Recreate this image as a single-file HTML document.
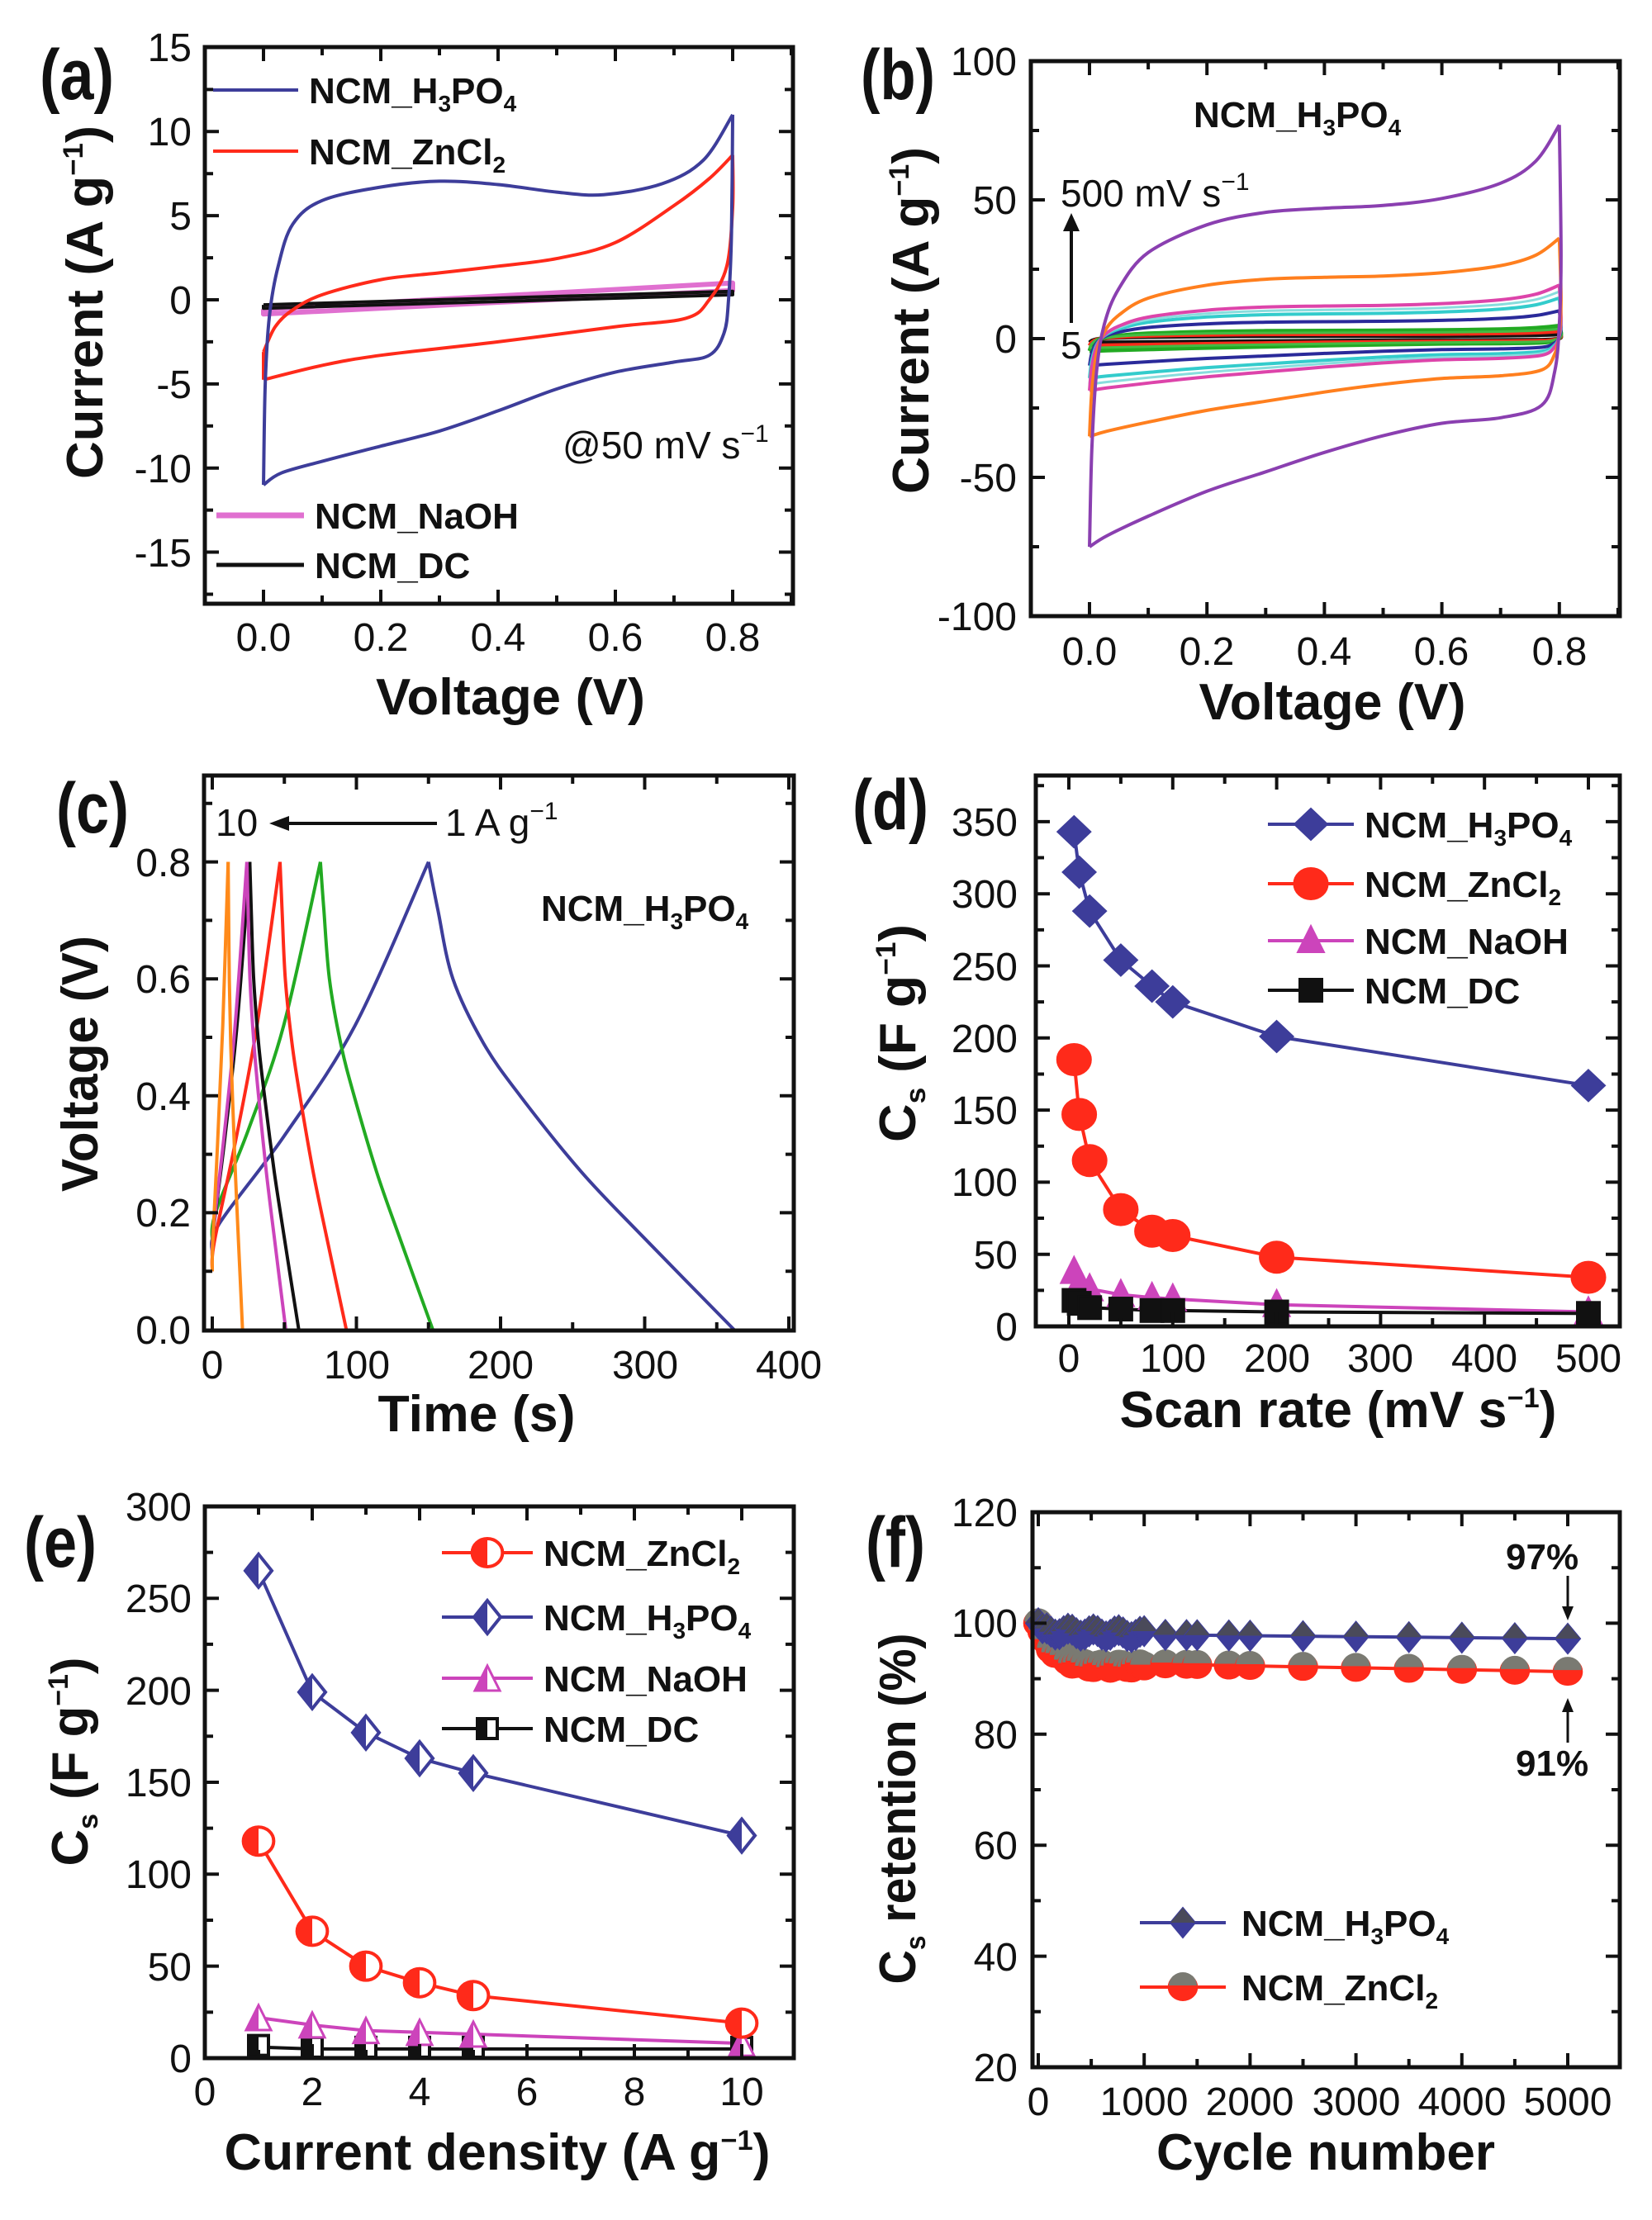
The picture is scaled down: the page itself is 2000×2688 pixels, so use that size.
<!DOCTYPE html>
<html><head><meta charset="utf-8"><style>
html,body{margin:0;padding:0;background:#fff}
svg{display:block}
text{font-family:"Liberation Sans",Arial,sans-serif;fill:#111}
.t{font-size:48px}
.L{font-size:44px;font-weight:bold}
.T{font-size:62px;font-weight:bold}
.P{font-size:86px;font-weight:bold}
.A{font-size:46px}
</style></head><body>
<svg id="s" xmlns="http://www.w3.org/2000/svg" width="2000" height="2688" viewBox="0 0 2000 2688">
<rect width="2000" height="2688" fill="#fff"/>
<g id="dyn"></g>
<!-- panel labels -->
<text class="P" x="48" y="120" textLength="90" lengthAdjust="spacingAndGlyphs">(a)</text>
<text class="P" x="1042" y="120" textLength="90" lengthAdjust="spacingAndGlyphs">(b)</text>
<text class="P" x="68" y="1008" textLength="88" lengthAdjust="spacingAndGlyphs">(c)</text>
<text class="P" x="1032" y="1004" textLength="92" lengthAdjust="spacingAndGlyphs">(d)</text>
<text class="P" x="29" y="1897" textLength="88" lengthAdjust="spacingAndGlyphs">(e)</text>
<text class="P" x="1048" y="1897" textLength="72" lengthAdjust="spacingAndGlyphs">(f)</text>

<g class="t" text-anchor="end">
<text x="232" y="74">15</text><text x="232" y="176">10</text><text x="232" y="278">5</text><text x="232" y="380">0</text><text x="232" y="482">-5</text><text x="232" y="584">-10</text><text x="232" y="686">-15</text>
<text x="1231" y="91">100</text><text x="1231" y="259">50</text><text x="1231" y="427">0</text><text x="1231" y="595">-50</text><text x="1231" y="763">-100</text>
<text x="231" y="1627">0.0</text><text x="231" y="1485">0.2</text><text x="231" y="1344">0.4</text><text x="231" y="1202">0.6</text><text x="231" y="1061">0.8</text>
<text x="1232" y="1623">0</text><text x="1232" y="1536">50</text><text x="1232" y="1448">100</text><text x="1232" y="1361">150</text><text x="1232" y="1274">200</text><text x="1232" y="1187">250</text><text x="1232" y="1099">300</text><text x="1232" y="1012">350</text>
<text x="232" y="2509">0</text><text x="232" y="2398">50</text><text x="232" y="2286">100</text><text x="232" y="2175">150</text><text x="232" y="2064">200</text><text x="232" y="1952">250</text><text x="232" y="1841">300</text>
<text x="1232" y="2520">20</text><text x="1232" y="2386">40</text><text x="1232" y="2251">60</text><text x="1232" y="2117">80</text><text x="1232" y="1982">100</text><text x="1232" y="1848">120</text>
</g>
<g class="t" text-anchor="middle">
<text x="319" y="788">0.0</text><text x="461" y="788">0.2</text><text x="603" y="788">0.4</text><text x="745" y="788">0.6</text><text x="887" y="788">0.8</text>
<text x="1319" y="805">0.0</text><text x="1461" y="805">0.2</text><text x="1603" y="805">0.4</text><text x="1745" y="805">0.6</text><text x="1888" y="805">0.8</text>
<text x="257" y="1669">0</text><text x="432" y="1669">100</text><text x="606" y="1669">200</text><text x="781" y="1669">300</text><text x="955" y="1669">400</text>
<text x="1294" y="1661">0</text><text x="1420" y="1661">100</text><text x="1546" y="1661">200</text><text x="1671" y="1661">300</text><text x="1797" y="1661">400</text><text x="1923" y="1661">500</text>
<text x="248" y="2549">0</text><text x="378" y="2549">2</text><text x="508" y="2549">4</text><text x="638" y="2549">6</text><text x="768" y="2549">8</text><text x="898" y="2549">10</text>
<text x="1257" y="2561">0</text><text x="1385" y="2561">1000</text><text x="1513" y="2561">2000</text><text x="1642" y="2561">3000</text><text x="1770" y="2561">4000</text><text x="1898" y="2561">5000</text>
</g>

<g class="T" text-anchor="middle">
<text x="618" y="865" textLength="326" lengthAdjust="spacingAndGlyphs">Voltage (V)</text>
<text x="1613" y="871" textLength="323" lengthAdjust="spacingAndGlyphs">Voltage (V)</text>
<text x="577" y="1733" textLength="239" lengthAdjust="spacingAndGlyphs">Time (s)</text>
<text x="1620" y="1728" textLength="529" lengthAdjust="spacingAndGlyphs">Scan rate (mV s<tspan dy="-24" font-size="34">−1</tspan><tspan dy="24">)</tspan></text>
<text x="602" y="2627" textLength="661" lengthAdjust="spacingAndGlyphs">Current density (A g<tspan dy="-24" font-size="34">−1</tspan><tspan dy="24">)</tspan></text>
<text x="1605" y="2627" textLength="410" lengthAdjust="spacingAndGlyphs">Cycle number</text>
<text transform="translate(124,366) rotate(-90)" textLength="428" lengthAdjust="spacingAndGlyphs">Current (A g<tspan dy="-24" font-size="34">−1</tspan><tspan dy="24">)</tspan></text>
<text transform="translate(1124,388) rotate(-90)" textLength="420" lengthAdjust="spacingAndGlyphs">Current (A g<tspan dy="-24" font-size="34">−1</tspan><tspan dy="24">)</tspan></text>
<text transform="translate(118,1288) rotate(-90)" textLength="310" lengthAdjust="spacingAndGlyphs">Voltage (V)</text>
<text transform="translate(1108,1251) rotate(-90)" textLength="264" lengthAdjust="spacingAndGlyphs">C<tspan dy="12" font-size="34">s</tspan><tspan dy="-12"> (F g</tspan><tspan dy="-24" font-size="34">−1</tspan><tspan dy="24">)</tspan></text>
<text transform="translate(106,2133) rotate(-90)" textLength="253" lengthAdjust="spacingAndGlyphs">C<tspan dy="12" font-size="34">s</tspan><tspan dy="-12"> (F g</tspan><tspan dy="-24" font-size="34">−1</tspan><tspan dy="24">)</tspan></text>
<text transform="translate(1108,2190) rotate(-90)" textLength="425" lengthAdjust="spacingAndGlyphs">C<tspan dy="12" font-size="34">s</tspan><tspan dy="-12"> retention (%)</tspan></text>
</g>

<g class="L">
<text x="374" y="125">NCM_H<tspan dy="10" font-size="28">3</tspan><tspan dy="-10">PO</tspan><tspan dy="10" font-size="28">4</tspan></text>
<text x="374" y="199">NCM_ZnCl<tspan dy="10" font-size="28">2</tspan></text>
<text x="381" y="640">NCM_NaOH</text>
<text x="381" y="700">NCM_DC</text>
<text x="1445" y="154">NCM_H<tspan dy="10" font-size="28">3</tspan><tspan dy="-10">PO</tspan><tspan dy="10" font-size="28">4</tspan></text>
<text x="655" y="1115">NCM_H<tspan dy="10" font-size="28">3</tspan><tspan dy="-10">PO</tspan><tspan dy="10" font-size="28">4</tspan></text>
<text x="1652" y="1014">NCM_H<tspan dy="10" font-size="28">3</tspan><tspan dy="-10">PO</tspan><tspan dy="10" font-size="28">4</tspan></text>
<text x="1652" y="1086">NCM_ZnCl<tspan dy="10" font-size="28">2</tspan></text>
<text x="1652" y="1155">NCM_NaOH</text>
<text x="1652" y="1215">NCM_DC</text>
<text x="658" y="1896">NCM_ZnCl<tspan dy="10" font-size="28">2</tspan></text>
<text x="658" y="1974">NCM_H<tspan dy="10" font-size="28">3</tspan><tspan dy="-10">PO</tspan><tspan dy="10" font-size="28">4</tspan></text>
<text x="658" y="2048">NCM_NaOH</text>
<text x="658" y="2109">NCM_DC</text>
<text x="1503" y="2344">NCM_H<tspan dy="10" font-size="28">3</tspan><tspan dy="-10">PO</tspan><tspan dy="10" font-size="28">4</tspan></text>
<text x="1503" y="2422">NCM_ZnCl<tspan dy="10" font-size="28">2</tspan></text>
<text x="1823" y="1900">97%</text>
<text x="1835" y="2150">91%</text>
</g>
<g class="A">
<text x="681" y="555">@50 mV s<tspan dy="-20" font-size="30">−1</tspan></text>
<text x="1284" y="250">500 mV s<tspan dy="-20" font-size="30">−1</tspan></text>
<text x="1284" y="434">5</text>
<text x="261" y="1012">10</text>
<text x="539" y="1012">1 A g<tspan dy="-20" font-size="30">−1</tspan></text>
</g>
</svg>
<script>
(function(){
var NS='http://www.w3.org/2000/svg';
var G=document.getElementById('dyn');
function el(t,a,p){var e=document.createElementNS(NS,t);for(var k in a)e.setAttribute(k,a[k]);(p||G).appendChild(e);return e;}
function cr(P){
  var d='M'+P[0][0].toFixed(1)+','+P[0][1].toFixed(1);
  for(var i=0;i<P.length-1;i++){
    var p0=P[i-1]||P[i],p1=P[i],p2=P[i+1],p3=P[i+2]||P[i+1];
    var c1x=p1[0]+(p2[0]-p0[0])/6,c1y=p1[1]+(p2[1]-p0[1])/6;
    var c2x=p2[0]-(p3[0]-p1[0])/6,c2y=p2[1]-(p3[1]-p1[1])/6;
    d+='C'+c1x.toFixed(1)+','+c1y.toFixed(1)+' '+c2x.toFixed(1)+','+c2y.toFixed(1)+' '+p2[0].toFixed(1)+','+p2[1].toFixed(1);
  }
  return d;
}
function curve(pts,X,Y,col,w){var P=pts.map(function(p){return [X(p[0]),Y(p[1])];});el('path',{d:cr(P),fill:'none',stroke:col,'stroke-width':w||4,'stroke-linejoin':'round'});}
function poly(pts,X,Y,col,w){var P=pts.map(function(p){return X(p[0]).toFixed(1)+','+Y(p[1]).toFixed(1);});el('polyline',{points:P.join(' '),fill:'none',stroke:col,'stroke-width':w||4,'stroke-linejoin':'round'});}
function axes(b,X,Y,xM,xm,yM,ym){
  var x0=b[0],y0=b[1],x1=b[2],y1=b[3],d='';
  function xt(v,L){var x=X(v);if(x<x0+2||x>x1-2)return;d+='M'+x+','+y1+'v'+(-L)+'M'+x+','+y0+'v'+L;}
  function yt(v,L){var y=Y(v);if(y<y0+2||y>y1-2)return;d+='M'+x0+','+y+'h'+L+'M'+x1+','+y+'h'+(-L);}
  xM.forEach(function(v){xt(v,17)});xm.forEach(function(v){xt(v,10)});
  yM.forEach(function(v){yt(v,17)});ym.forEach(function(v){yt(v,10)});
  el('path',{d:d,stroke:'#111','stroke-width':4,fill:'none'});
  el('rect',{x:x0,y:y0,width:x1-x0,height:y1-y0,fill:'none',stroke:'#111','stroke-width':5});
}
function rng(a,b,s){var r=[];for(var v=a;v<=b+1e-9;v+=s)r.push(+v.toFixed(6));return r;}
var BL='#3d3d9a',RD='#ff2a1a',MG='#cc44bb',BK='#111';

// (a)
var Xa=function(v){return 319+v*710},Ya=function(i){return 363-i*20.37};
poly([[0,-0.55],[0.8,1.0],[0.8,0.55],[0,-0.85],[0,-0.55]],Xa,Ya,'#e070d0',6);
poly([[0,-0.3],[0.8,0.5],[0.8,0.3],[0,-0.5],[0,-0.3]],Xa,Ya,BK,4);
curve([[0,-3.1],[0.02,-1.6],[0.05,-0.6],[0.1,0.3],[0.2,1.2],[0.3,1.6],[0.4,2.0],[0.5,2.45],[0.6,3.4],[0.7,5.6],[0.76,7.2],[0.8,8.6]],Xa,Ya,RD);
curve([[0.8,8.6],[0.8,5.5],[0.79,2],[0.76,0],[0.72,-1.1],[0.6,-1.6],[0.4,-2.5],[0.2,-3.3],[0.1,-3.9],[0,-4.75]],Xa,Ya,RD);
poly([[0,-4.75],[0,-3.1]],Xa,Ya,RD);
curve([[0,-11],[0.003,-5],[0.01,-1],[0.025,2],[0.05,4.5],[0.1,5.9],[0.2,6.7],[0.3,7.05],[0.4,6.85],[0.5,6.4],[0.58,6.25],[0.68,6.9],[0.75,8.3],[0.8,11]],Xa,Ya,BL);
curve([[0.8,11],[0.798,4],[0.793,0],[0.785,-2],[0.76,-3.3],[0.7,-3.7],[0.6,-4.3],[0.5,-5.3],[0.4,-6.6],[0.3,-7.8],[0.2,-8.7],[0.1,-9.6],[0.03,-10.3],[0,-11]],Xa,Ya,BL);
axes([248,57,960,731],Xa,Ya,rng(0,0.8,0.2),rng(-0.1,0.9,0.1),rng(-15,15,5),rng(-17.5,17.5,2.5));
el('line',{x1:258,y1:109,x2:361,y2:109,stroke:BL,'stroke-width':4});
el('line',{x1:258,y1:183,x2:361,y2:183,stroke:RD,'stroke-width':4});
el('line',{x1:262,y1:624,x2:368,y2:624,stroke:'#e070d0','stroke-width':7});
el('line',{x1:262,y1:684,x2:368,y2:684,stroke:BK,'stroke-width':5});

// (b)
var Xb=function(v){return 1319+v*711},Yb=function(i){return 410-i*3.36};
var U=[[0,-75],[0.004,-40],[0.012,-12],[0.025,5],[0.05,18],[0.1,31],[0.2,41],[0.3,45.5],[0.4,47],[0.5,48],[0.6,50.5],[0.7,56],[0.76,64],[0.8,77]];
var D=[[0.8,77],[0.803,30],[0.8,5],[0.792,-12],[0.77,-24],[0.7,-28.5],[0.6,-30.5],[0.5,-35],[0.4,-41],[0.3,-48],[0.2,-55],[0.1,-64],[0.03,-71],[0,-75]];
function cvb(s,col,w){
  var u=U.map(function(p){return [p[0],p[1]*s]}),d=D.map(function(p){return [p[0],p[1]*s]});
  curve(u,Xb,Yb,col,w);curve(d,Xb,Yb,col,w);
}
cvb(0.02,BK,5);cvb(0.035,RD,5);cvb(0.06,'#22aa22',5);cvb(0.045,'#44bb44',3);
cvb(0.13,'#2a2a9a',4);cvb(0.19,'#33cccc',4);cvb(0.22,'#88dddd',3);cvb(0.25,'#dd44aa',4);cvb(0.47,'#ff7f1e',4);cvb(1,'#8a3fb0',4);
axes([1248,74,1961,746],Xb,Yb,rng(0,0.8,0.2),rng(-0.1,0.9,0.1),rng(-100,100,50),rng(-100,100,25));
el('line',{x1:1297,y1:391,x2:1297,y2:275,stroke:'#111','stroke-width':4});
el('path',{d:'M1287,280 L1297,258 L1307,280 Z',fill:'#111'});

// (c)
var Xc=function(t){return 257+t*1.745},Yc=function(v){return 1610-v*708};
function gcd(t0,v0,tc,td,col){
  var ch=[[t0,v0],[t0+0.03*tc,v0+0.05],[t0+0.33*tc,0.33+(v0-0.13)*0.5],[t0+0.66*tc,0.52],[tc,0.8]];
  var L=td-tc;
  var dc=[[tc,0.8],[tc+0.03*L,0.72],[tc+0.08*L,0.6],[tc+0.18*L,0.49],[tc+0.3*L,0.40],[tc+0.5*L,0.27],[tc+0.7*L,0.16],[td,0]];
  curve(ch,Xc,Yc,col);curve(dc,Xc,Yc,col);
}
gcd(0,0.13,150,362,BL);
gcd(0,0.15,75,153,'#22aa22');
gcd(0,0.1,47,93,RD);
gcd(0,0.12,26,60,BK);
gcd(0,0.12,24,51,'#cc44bb');
gcd(0,0.1,11,21,'#ff8a1a');
axes([247,939,961,1611],Xc,Yc,rng(0,400,100),rng(0,400,50),rng(0,0.8,0.2),rng(0,0.9,0.1));
el('line',{x1:529,y1:997,x2:345,y2:997,stroke:'#111','stroke-width':4});
el('path',{d:'M350,988 L326,997 L350,1006 Z',fill:'#111'});

function diamond(cx,cy,w,h,fill,stroke,sw){el('path',{d:'M'+cx+','+(cy-h)+'L'+(cx+w)+','+cy+'L'+cx+','+(cy+h)+'L'+(cx-w)+','+cy+'Z',fill:fill,stroke:stroke||fill,'stroke-width':sw||2});}
function circ(cx,cy,r,fill,stroke,sw){el('ellipse',{cx:cx,cy:cy,rx:r*1.08,ry:r,fill:fill,stroke:stroke||fill,'stroke-width':sw||2});}
function tri(cx,cy,w,h,fill,stroke,sw){el('path',{d:'M'+cx+','+(cy-h)+'L'+(cx+w)+','+(cy+h)+'L'+(cx-w)+','+(cy+h)+'Z',fill:fill,stroke:stroke||fill,'stroke-width':sw||2});}
function sq(cx,cy,a,fill,stroke,sw){el('rect',{x:cx-a,y:cy-a,width:2*a,height:2*a,fill:fill,stroke:stroke||fill,'stroke-width':sw||2});}

// (d)
var Xd=function(s){return 1294+s*1.258},Yd=function(c){return 1606-c*1.746};
var sr=[5,10,20,50,80,100,200,500];
var dH=[343,315,288,254,236,225,201,167],dZ=[185,147,115,81,66,63,48,34],dN=[38,30,26,22,20,19,15,10],dD=[18,16,13,12,11,11,10,9];
function series(xs,ys,X,Y,col){poly(xs.map(function(x,i){return [x,ys[i]]}),X,Y,col,4);}
series(sr,dN,Xd,Yd,MG);series(sr,dD,Xd,Yd,BK);series(sr,dZ,Xd,Yd,RD);series(sr,dH,Xd,Yd,BL);
sr.forEach(function(s,i){tri(Xd(s),Yd(dN[i])-2,16,16,MG);});
sr.forEach(function(s,i){sq(Xd(s),Yd(dD[i]),14,BK);});
sr.forEach(function(s,i){circ(Xd(s),Yd(dZ[i]),19,RD);});
sr.forEach(function(s,i){diamond(Xd(s),Yd(dH[i]),20,19,BL);});
axes([1254,939,1961,1606],Xd,Yd,rng(0,500,100),rng(0,550,50),rng(0,350,50),rng(0,375,25));
[[998,'H'],[1070,'Z'],[1139,'N'],[1199,'D']].forEach(function(r){
  var y=r[0],c={H:BL,Z:RD,N:MG,D:BK}[r[1]];
  el('line',{x1:1535,y1:y,x2:1639,y2:y,stroke:c,'stroke-width':4});
  if(r[1]=='H')diamond(1587,y,20,19,BL);if(r[1]=='Z')circ(1587,y,19,RD);if(r[1]=='N')tri(1587,y-2,16,16,MG);if(r[1]=='D')sq(1587,y,14,BK);
});

// (e)
var Xe=function(j){return 248+j*65},Ye=function(c){return 2492-c*2.227};
var cd=[1,2,3,4,5,10];
var eH=[265,199,177,163,155,121],eZ=[118,69,50,41,34,19],eN=[22,18,15,14,13,8],eD=[6,5,5,5,5,5];
series(cd,eD,Xe,Ye,BK);series(cd,eN,Xe,Ye,MG);series(cd,eZ,Xe,Ye,RD);series(cd,eH,Xe,Ye,BL);
function hd(cx,cy,col){diamond(cx,cy,16,20,'#fff',col,4);el('path',{d:'M'+cx+','+(cy-20)+'L'+(cx-16)+','+cy+'L'+cx+','+(cy+20)+'Z',fill:col});}
function hc(cx,cy,col){circ(cx,cy,17,'#fff',col,4);el('path',{d:'M'+cx+','+(cy-17)+'A18 17 0 0 0 '+cx+','+(cy+17)+'Z',fill:col});}
function ht(cx,cy,col){tri(cx,cy,15,15,'#fff',col,3);el('path',{d:'M'+cx+','+(cy-15)+'L'+(cx-15)+','+(cy+15)+'L'+cx+','+(cy+15)+'Z',fill:col});}
function hs(cx,cy,col){sq(cx,cy,12,'#fff',col,4);el('rect',{x:cx-12,y:cy-12,width:12,height:24,fill:col});}
cd.forEach(function(j,i){hs(Xe(j),Ye(eD[i])-2,BK);});
cd.forEach(function(j,i){ht(Xe(j),Ye(eN[i]),MG);});
cd.forEach(function(j,i){hc(Xe(j),Ye(eZ[i]),RD);});
cd.forEach(function(j,i){hd(Xe(j),Ye(eH[i]),BL);});
axes([248,1824,961,2492],Xe,Ye,rng(0,10,2),rng(0,11,1),rng(0,300,50),rng(0,300,25));
el('line',{x1:535,y1:1880,x2:645,y2:1880,stroke:RD,'stroke-width':4});hc(590,1880,RD);
el('line',{x1:535,y1:1958,x2:645,y2:1958,stroke:BL,'stroke-width':4});hd(590,1958,BL);
el('line',{x1:535,y1:2032,x2:645,y2:2032,stroke:MG,'stroke-width':4});ht(590,2032,MG);
el('line',{x1:535,y1:2093,x2:645,y2:2093,stroke:BK,'stroke-width':4});hs(590,2093,BK);

// (f)
var Xf=function(n){return 1257+n*0.1282},Yf=function(r){return 1831+(120-r)*6.72};
var fn=[],fH=[],fZ=[];
for(var n=0;n<=1000;n+=40){fn.push(n);fH.push(n==0?100:98.6-0.0006*n+0.6*Math.sin(n/37));fZ.push(n==0?100:Math.max(92.2,100-8*(1-Math.exp(-n/150)))+0.4*Math.sin(n/29));}
[1200,1400,1500,1800,2000,2500,3000,3500,4000,4500,5000].forEach(function(n){fn.push(n);fH.push(97.9-0.00018*(n-1200));fZ.push(92.6-0.00035*(n-1200));});
series(fn,fZ,Xf,Yf,RD);series(fn,fH,Xf,Yf,BL);
function bd(cx,cy){diamond(cx,cy,15,18,BL);el('path',{d:'M'+(cx-15)+','+cy+'L'+cx+','+(cy-18)+'L'+(cx+15)+','+cy+'Z',fill:'#4a4a5a'});}
function bc(cx,cy){circ(cx,cy,16,RD);el('path',{d:'M'+(cx-17)+','+(cy-2)+'A17 16 0 0 1 '+(cx+17)+','+(cy-2)+'Z',fill:'#7a7a72'});}
fn.forEach(function(n,i){bc(Xf(n),Yf(fZ[i]));});
fn.forEach(function(n,i){bd(Xf(n),Yf(fH[i]));});
axes([1250,1831,1961,2503],Xf,Yf,rng(0,5000,1000),rng(0,5500,500),rng(20,120,20),rng(20,120,10));
el('line',{x1:1380,y1:2328,x2:1484,y2:2328,stroke:BL,'stroke-width':4});bd(1432,2328);
el('line',{x1:1380,y1:2406,x2:1484,y2:2406,stroke:RD,'stroke-width':4});bc(1432,2406);
el('line',{x1:1898,y1:1908,x2:1898,y2:1950,stroke:'#111','stroke-width':3});
el('path',{d:'M1891,1945 L1898,1962 L1905,1945 Z',fill:'#111'});
el('line',{x1:1898,y1:2110,x2:1898,y2:2068,stroke:'#111','stroke-width':3});
el('path',{d:'M1891,2073 L1898,2056 L1905,2073 Z',fill:'#111'});
})();
</script>
</body></html>
